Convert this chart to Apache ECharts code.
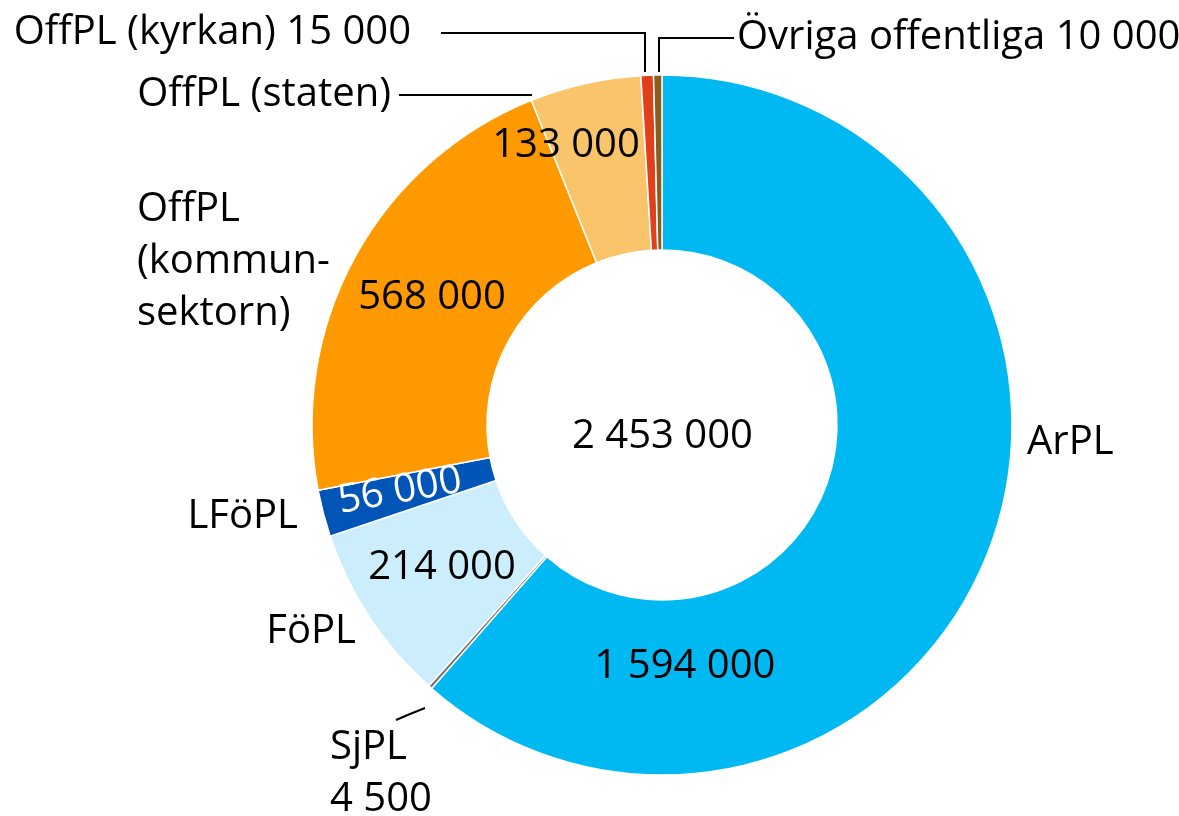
<!DOCTYPE html>
<html>
<head>
<meta charset="utf-8">
<script src="https://cdn.jsdelivr.net/npm/echarts@6/dist/echarts.min.js"></script>
<style>
html,body{margin:0;padding:0;background:#fff;}
#chart{width:1179px;height:816px;}
</style>
</head>
<body>
<div id="chart"></div>
<script>
// ---- data ----
const categories = ['ArPL', 'SjPL', 'FöPL', 'LFöPL', 'OffPL (kommunsektorn)', 'OffPL (staten)', 'OffPL (kyrkan)', 'Övriga offentliga'];
const values = [1594000, 4500, 214000, 56000, 568000, 133000, 15000, 10000];
const outerLabels = ['ArPL', 'SjPL\n4 500', 'FöPL', 'LFöPL', 'OffPL\n(kommun-\nsektorn)', 'OffPL (staten)', 'OffPL (kyrkan) 15 000', 'Övriga offentliga 10 000'];
const showInnerValue = [true, false, true, true, true, true, false, false];
const totalLabel = '2 453 000';

// ---- style / layout ----
const colors = ['#00B9F2', '#6F6F6F', '#CCEEFC', '#0055B7', '#FF9900', '#FAC46B', '#E2401B', '#8A5D1C'];
const FONT = '"Open Sans", "Noto Sans", sans-serif';
const FS = 40;
const C = [662, 425];
const R = [175, 350];

const innerLayout = [
  {x: 685, y: 667},
  null,
  {x: 442, y: 568},
  {x: 400, y: 491, rotate: 10, color: '#fff'},
  {x: 432, y: 298},
  {x: 566, y: 146},
  null, null
];
const outerLayout = [
  {x: 1027, y: 443, align: 'left'},
  {x: 330, y: 774, align: 'left', line: [[425, 708], [410, 714], [396, 720]]},
  {x: 356, y: 632, align: 'right'},
  {x: 298, y: 517, align: 'right'},
  {x: 137, y: 262, align: 'left'},
  {x: 391, y: 95, align: 'right', line: [[532, 95], [465, 95], [399, 95]]},
  {x: 411, y: 33, align: 'right', line: [[645, 72], [645, 33], [441, 33]]},
  {x: 737, y: 38, align: 'left', line: [[659, 72], [659, 38], [734, 38]]}
];

function fmt(v) {
  return String(v).replace(/\B(?=(\d{3})+(?!\d))/g, ' ');
}

const innerData = categories.map((c, i) => ({
  name: c,
  value: values[i],
  itemStyle: {color: colors[i]},
  label: {show: showInnerValue[i], color: (innerLayout[i] && innerLayout[i].color) || '#000'}
}));
const outerData = categories.map((c, i) => ({
  name: c,
  value: values[i],
  label: {formatter: outerLabels[i]},
  labelLine: {show: !!outerLayout[i].line}
}));

const chart = echarts.init(document.getElementById('chart'), null, {renderer: 'canvas'});
chart.setOption({
  backgroundColor: '#fff',
  animation: false,
  graphic: [{
    type: 'text',
    left: C[0] - 90,
    top: 444 - 27,
    style: {text: totalLabel, font: FS + 'px ' + FONT, fill: '#000', width: 180, align: 'center'},
    silent: true
  }],
  series: [
    {
      type: 'pie',
      center: C,
      radius: R,
      startAngle: 90,
      clockwise: true,
      avoidLabelOverlap: false,
      itemStyle: {borderColor: '#fff', borderWidth: 1.5},
      emphasis: {disabled: true},
      label: {
        position: 'inside',
        fontFamily: FONT,
        fontSize: FS,
        color: '#000',
        formatter: p => fmt(p.value)
      },
      labelLine: {show: false},
      labelLayout: function (p) {
        const L = innerLayout[p.dataIndex];
        if (!L) return {};
        return {x: L.x, y: L.y, align: 'center', verticalAlign: 'middle', rotate: L.rotate || 0};
      },
      data: innerData
    },
    {
      type: 'pie',
      center: C,
      radius: R,
      startAngle: 90,
      clockwise: true,
      silent: true,
      avoidLabelOverlap: false,
      itemStyle: {color: 'rgba(0,0,0,0)', borderWidth: 0},
      emphasis: {disabled: true},
      label: {
        position: 'outside',
        fontFamily: FONT,
        fontSize: FS,
        lineHeight: 52,
        color: '#000'
      },
      labelLine: {show: true, lineStyle: {color: '#000', width: 2}},
      labelLayout: function (p) {
        const L = outerLayout[p.dataIndex];
        const o = {x: L.x, y: L.y, align: L.align, verticalAlign: 'middle'};
        if (L.line) o.labelLinePoints = L.line;
        return o;
      },
      data: outerData
    }
  ]
});
</script>
</body>
</html>
